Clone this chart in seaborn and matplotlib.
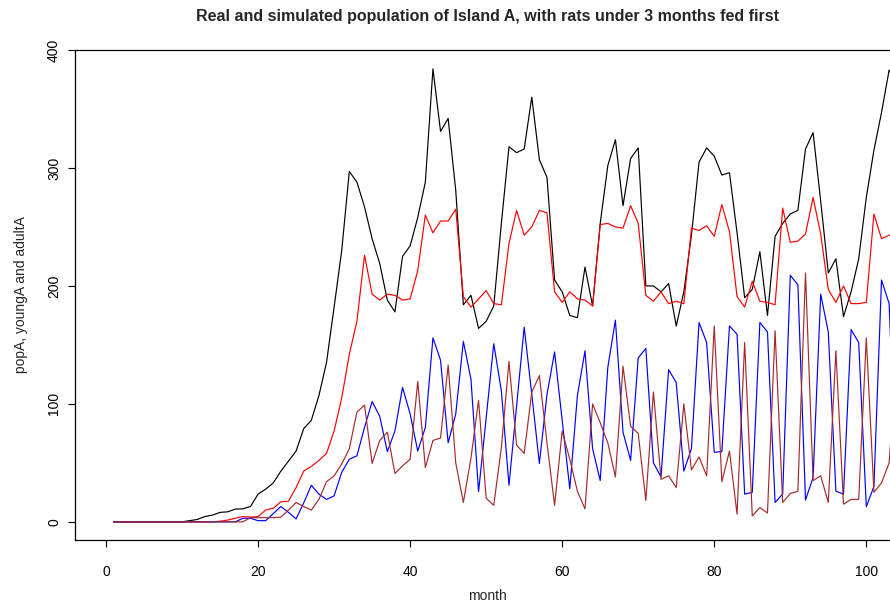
import numpy as np
import pandas as pd
import matplotlib
matplotlib.use("Agg")
import matplotlib.pyplot as plt
import seaborn as sns

months = list(range(1, 105))

popA = [0]*10 + [1, 2, 4.5, 5.7, 8, 8.5, 10.8, 11, 13, 23.5,
        27.7, 33, 43, 51.5, 60, 79, 86, 107, 135, 182,
        230, 297, 288, 267, 240, 219, 188, 178, 225, 234,
        258, 288, 384, 331, 342, 281, 184, 192, 164, 170,
        183, 253, 318, 313, 316, 360, 307, 292, 205, 195,
        175, 173, 216, 183, 253, 302, 324, 268, 308, 317,
        200, 200, 195, 202, 166, 195, 243, 305, 317, 310,
        294, 296, 245, 190, 197, 229, 175, 242, 253, 261,
        264, 316, 330, 272, 211, 223, 174, 195, 223, 275,
        315, 347, 383, 370]

adultA = [0]*14 + [0.5, 1.5, 3, 4.5, 4, 4.5,
          10, 11.5, 17, 17.5, 29, 43, 47, 52, 58, 77,
          105, 142, 170, 226, 193, 188, 193, 192, 188, 189,
          213, 260, 245, 255, 255, 265, 191, 182, 189, 196,
          185, 184, 236, 264, 243, 250, 264, 262, 195, 186,
          195, 189, 188, 183, 252, 253, 250, 249, 268, 253,
          192, 187, 195, 185, 187, 185, 249, 247, 251, 242,
          269, 246, 191, 182, 204, 187, 186, 184, 266, 237,
          238, 244, 275, 244, 197, 186, 200, 185, 185, 186,
          261, 240, 243, 245]

youngA = [0]*17 + [3, 3, 1,
          1, 7, 13, 8, 2.5, 16, 31, 23.5, 19, 22,
          42, 53, 56, 80, 102, 89.5, 59.5, 77, 114, 91.5,
          60, 80, 156, 137, 67, 91.5, 153, 121, 25.5, 88,
          151, 111, 31, 98, 165, 108, 49.5, 108, 144, 86,
          28, 107, 145, 62, 35, 131, 171, 76, 52, 139,
          147, 50, 38, 129, 118, 43, 62, 169, 152, 59,
          59.5, 166, 159, 23.5, 25, 169, 161, 16.4, 23.5, 209,
          201, 18.4, 37.6, 193, 161, 26, 23.5, 163, 152, 12.7,
          30, 205, 185, 25]

simA = [0]*18 + [3.5, 3.5,
        3.5, 3.5, 4, 10, 16.4, 13, 10, 19, 34, 39,
        49, 62, 93, 99, 49.5, 69, 76, 41, 47.5, 53,
        119, 46, 69, 71, 133, 50, 16.4, 54, 103, 20,
        14, 63, 136, 65, 58, 110, 124, 67, 14, 77,
        53, 26, 11, 100, 84, 67, 38, 132, 81, 75,
        18, 110, 36, 39, 29, 100, 44, 55, 39, 166,
        34, 60, 6.5, 152, 5, 12, 7.5, 162, 16.4, 24,
        26, 211, 35, 39, 16.4, 145, 15, 19, 19, 156,
        25, 33, 50, 140]

series_names = ["popA", "adultA", "youngA", "simA"]
series_colors = ["black", "red", "blue", "#A52A2A"]
x_ticks = [0, 20, 40, 60, 80, 100]
y_ticks = [0, 100, 200, 300, 400]

df = pd.DataFrame({"month": months, "popA": popA, "adultA": adultA,
                   "youngA": youngA, "simA": simA})

sns.set_style("white")
plt.rcParams['font.family'] = ['Liberation Sans', 'DejaVu Sans']

W, H = 890, 607
fig = plt.figure(figsize=(W/100, H/100), dpi=100)
left, right, top, bottom = 75, 899, 50, 540
ax = fig.add_axes([left/W, 1 - bottom/H, (right-left)/W, (bottom-top)/H])

for name, col in zip(series_names, series_colors):
    sns.lineplot(data=df, x="month", y=name, color=col, linewidth=0.85, ax=ax)

ax.set_xlim(-4.08, 104.3)
ax.set_ylim(-15.4, 400)
ax.set_xticks(x_ticks)
ax.set_yticks(y_ticks)
for s in ax.spines.values():
    s.set_linewidth(0.9)
    s.set_color("black")
ax.tick_params(axis="both", direction="out", length=5, width=0.8, colors="black",
               labelsize=10, left=True, bottom=True)
ax.tick_params(axis="x", pad=13)
ax.tick_params(axis="y", pad=5)
for lab in ax.get_yticklabels():
    lab.set_rotation(90)
    lab.set_va("center")

ax.set_xlabel("month", fontsize=10)
ax.set_ylabel("popA, youngA and adultA", fontsize=10)
ax.xaxis.set_label_coords(0.5, (bottom - 596) / (bottom - top))
ax.xaxis.label.set_va("center")
ax.yaxis.set_label_coords((21 - left) / (right - left), 0.5)
ax.yaxis.label.set_va("center")

fig.text(((left + right) / 2) / W, 1 - 17 / H,
         "Real and simulated population of Island A, with rats under 3 months fed first",
         ha="center", va="center", fontsize=11.5, fontweight="bold")

fig.savefig("out.png", dpi=100)
